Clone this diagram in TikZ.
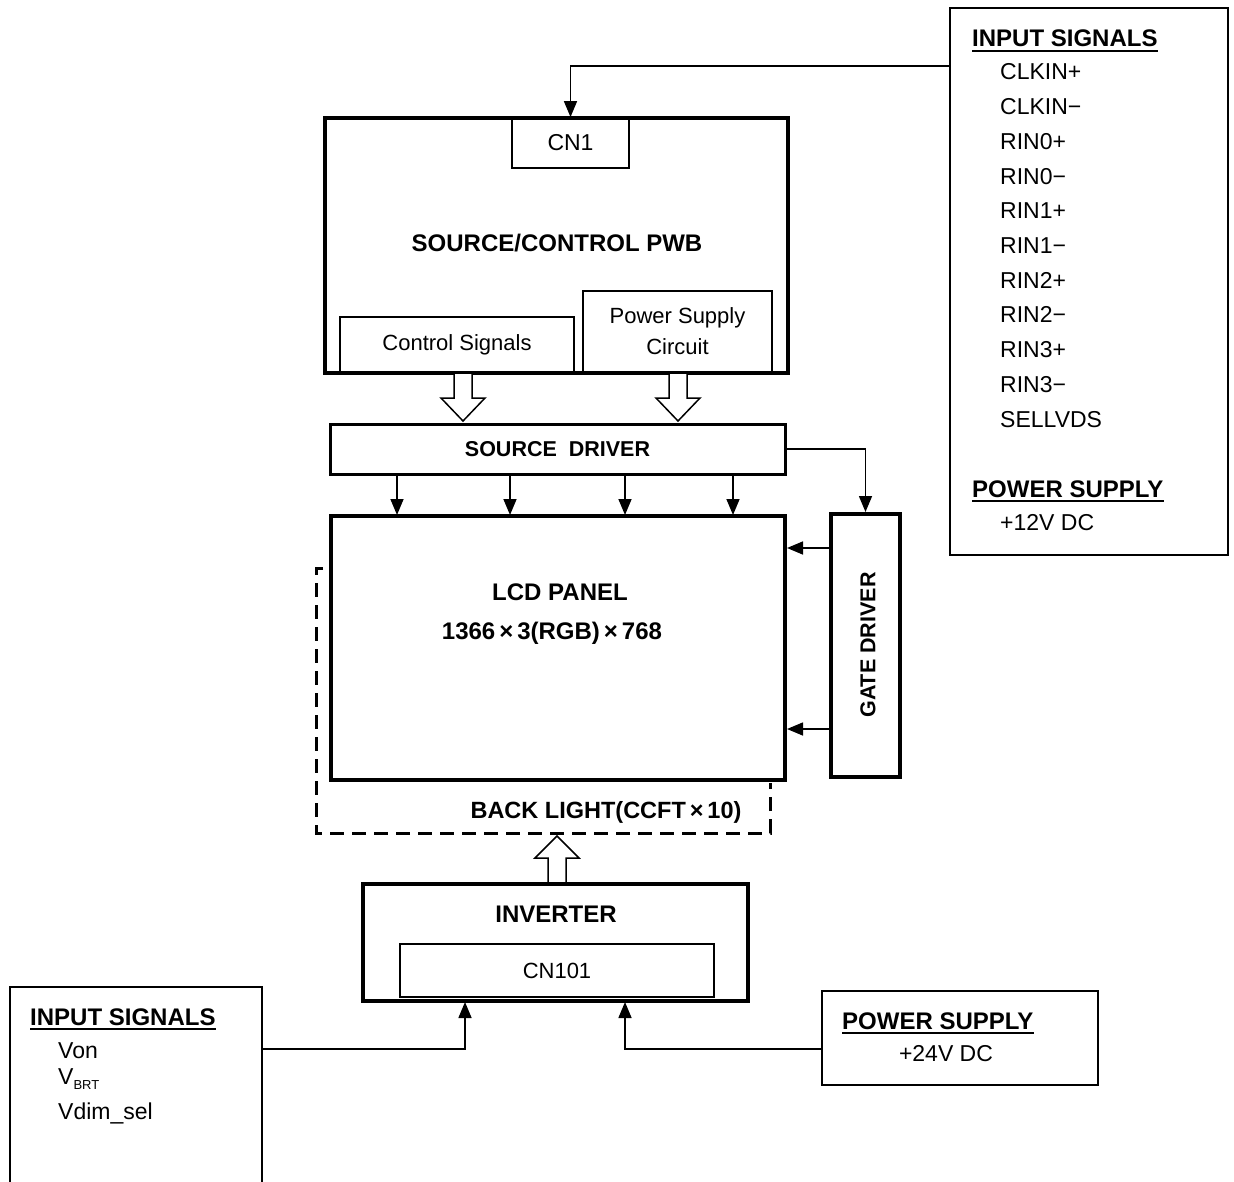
\documentclass[tikz,border=0pt]{standalone}
\usepackage{fontspec}
\setmainfont{Liberation Sans}
\usetikzlibrary{arrows.meta,calc}
\begin{document}
\begin{tikzpicture}[x=1pt,y=-1pt,
  thickbox/.style={draw, line width=4pt, inner sep=0pt},
  midbox/.style={draw, line width=3pt, inner sep=0pt},
  thinbox/.style={draw, line width=1.8pt, inner sep=0pt},
  conn/.style={line width=1.6pt, -{Triangle[width=13pt,length=16pt]}},
  reg/.style={font=\fontsize{23}{27}\selectfont, inner sep=0pt},
  regs/.style={font=\fontsize{22}{31}\selectfont, inner sep=0pt},
  hd/.style={font=\fontsize{24}{28}\selectfont\bfseries, inner sep=0pt},
  hds/.style={font=\fontsize{21.5}{26}\selectfont\bfseries, inner sep=0pt},
  blockarr/.style={draw, line width=1.5pt, fill=white, line join=miter},
  bldash/.style={line width=3pt, dash pattern=on 14pt off 8pt},
  uline/.style={line width=1.5pt}]
\useasboundingbox (0,0) rectangle (1234,1182);
\fill[white] (0,0) rectangle (1234,1182);

% ---------- top-right input box ----------
\node[thinbox, minimum width=278pt, minimum height=547pt] (trbox) at (1089,281.5) {};
\node[hd, anchor=base west] (tis) at (972,47) {INPUT SIGNALS};
\draw[uline] ($(tis.base west)+(0,4)$) -- ($(tis.base east)+(0,4)$);
\foreach \t [count=\i] in {CLKIN+,CLKIN−,RIN0+,RIN0−,RIN1+,RIN1−,RIN2+,RIN2−,RIN3+,RIN3−,SELLVDS}
  \node[reg, anchor=base west] (ts\i) at (1000,{45.3+34.7*\i}) {\t};
\node[hd, anchor=base west] (tps) at (972,497) {POWER SUPPLY};
\draw[uline] ($(tps.base west)+(0,4)$) -- ($(tps.base east)+(0,4)$);
\node[reg, anchor=base west] (t12) at (1000,530) {+12V DC};

% ---------- source/control PWB ----------
\node[thickbox, minimum width=463pt, minimum height=255pt] (pwb) at (556.5,245.5) {};
\node[thinbox, minimum width=117pt, minimum height=50pt, reg] (cn1) at (570.5,143) {CN1};
\node[hd] (pwbt) at (557,243) {SOURCE/CONTROL PWB};
\node[thinbox, minimum width=234pt, minimum height=55pt, regs] (ctrl) at (457,344.5) {Control Signals};
\node[thinbox, minimum width=189pt, minimum height=81pt, regs, align=center] (psc) at (677.5,331.5) {Power Supply\\Circuit};

\draw[conn] ($(trbox.north west)+(0,59)$) -| (cn1.north);

% open arrows down
\draw[blockarr] (454,374) -- (454,398) -- (441,398) -- (463,421) -- (485,398) -- (472,398) -- (472,374);
\draw[blockarr] (669,374) -- (669,398) -- (656,398) -- (678,421) -- (700,398) -- (687,398) -- (687,374);

% ---------- source driver ----------
\node[midbox, minimum width=455pt, minimum height=50pt, hds] (sd) at (557.5,449) {SOURCE\ \ DRIVER};

% ---------- LCD panel ----------
\node[thickbox, minimum width=454pt, minimum height=264pt] (lcd) at (558,648) {};
\node[hd] (lcdt) at (560,592) {LCD PANEL};
\node[hd] (lcdr) at (552,633) {1366\,×\,3(RGB)\,×\,768};

\foreach \x [count=\i] in {397,510,625,733}
  \draw[conn] (\x,475) -- (\x,515);

% ---------- gate driver ----------
\node[thickbox, minimum width=69pt, minimum height=263pt] (gd) at (865.5,645.5) {};
\node[hds, rotate=90] (gdt) at (868,645) {GATE DRIVER};
\draw[conn] (sd.east) -| (gd.north);
\draw[conn] ($(gd.north west)+(0,36)$) -- ($(lcd.north east)+(0,34)$);
\draw[conn] ($(gd.north west)+(0,217)$) -- ($(lcd.north east)+(0,215)$);

% ---------- back light ----------
\draw[bldash] (323,568) -- (316,568) -- (316,833) -- (770,833) -- (770,783);
\node[hd, font=\fontsize{23.5}{28}\selectfont\bfseries] (blt) at (606,812) {BACK LIGHT(CCFT\,×\,10)};

% open arrow up
\draw[blockarr] (548,883) -- (548,858) -- (535,858) -- (557,836) -- (579,858) -- (566,858) -- (566,883);

% ---------- inverter ----------
\node[thickbox, minimum width=385pt, minimum height=117pt] (inv) at (555.5,942.5) {};
\node[hd] (invt) at (556,914) {INVERTER};
\node[thinbox, minimum width=314pt, minimum height=53pt, regs] (cn101) at (557,970.5) {CN101};

% ---------- bottom-left input box ----------
\node[thinbox, minimum width=252pt, minimum height=226pt] (blbox) at (136,1100) {};
\node[hd, anchor=base west] (bis) at (30,1025) {INPUT SIGNALS};
\draw[uline] ($(bis.base west)+(0,4)$) -- ($(bis.base east)+(0,4)$);
\node[reg, anchor=base west] (von) at (58,1058) {Von};
\node[reg, anchor=base west] (vbrt) at (58,1084) {V\raisebox{-5pt}{\fontsize{13}{14}\selectfont BRT}};
\node[reg, anchor=base west] (vdim) at (58,1119) {Vdim\_sel};

% ---------- bottom-right power box ----------
\node[thinbox, minimum width=276pt, minimum height=94pt] (psbox) at (960,1038) {};
\node[hd, anchor=base west] (bps) at (842,1029) {POWER SUPPLY};
\draw[uline] ($(bps.base west)+(0,4)$) -- ($(bps.base east)+(0,4)$);
\node[reg] (v24) at (946,1054) {+24V DC};

\draw[conn] ($(blbox.north east)+(0,63)$) -| (465,1002);
\draw[conn] ($(psbox.north west)+(0,59)$) -| (625,1002);
\end{tikzpicture}
\end{document}
